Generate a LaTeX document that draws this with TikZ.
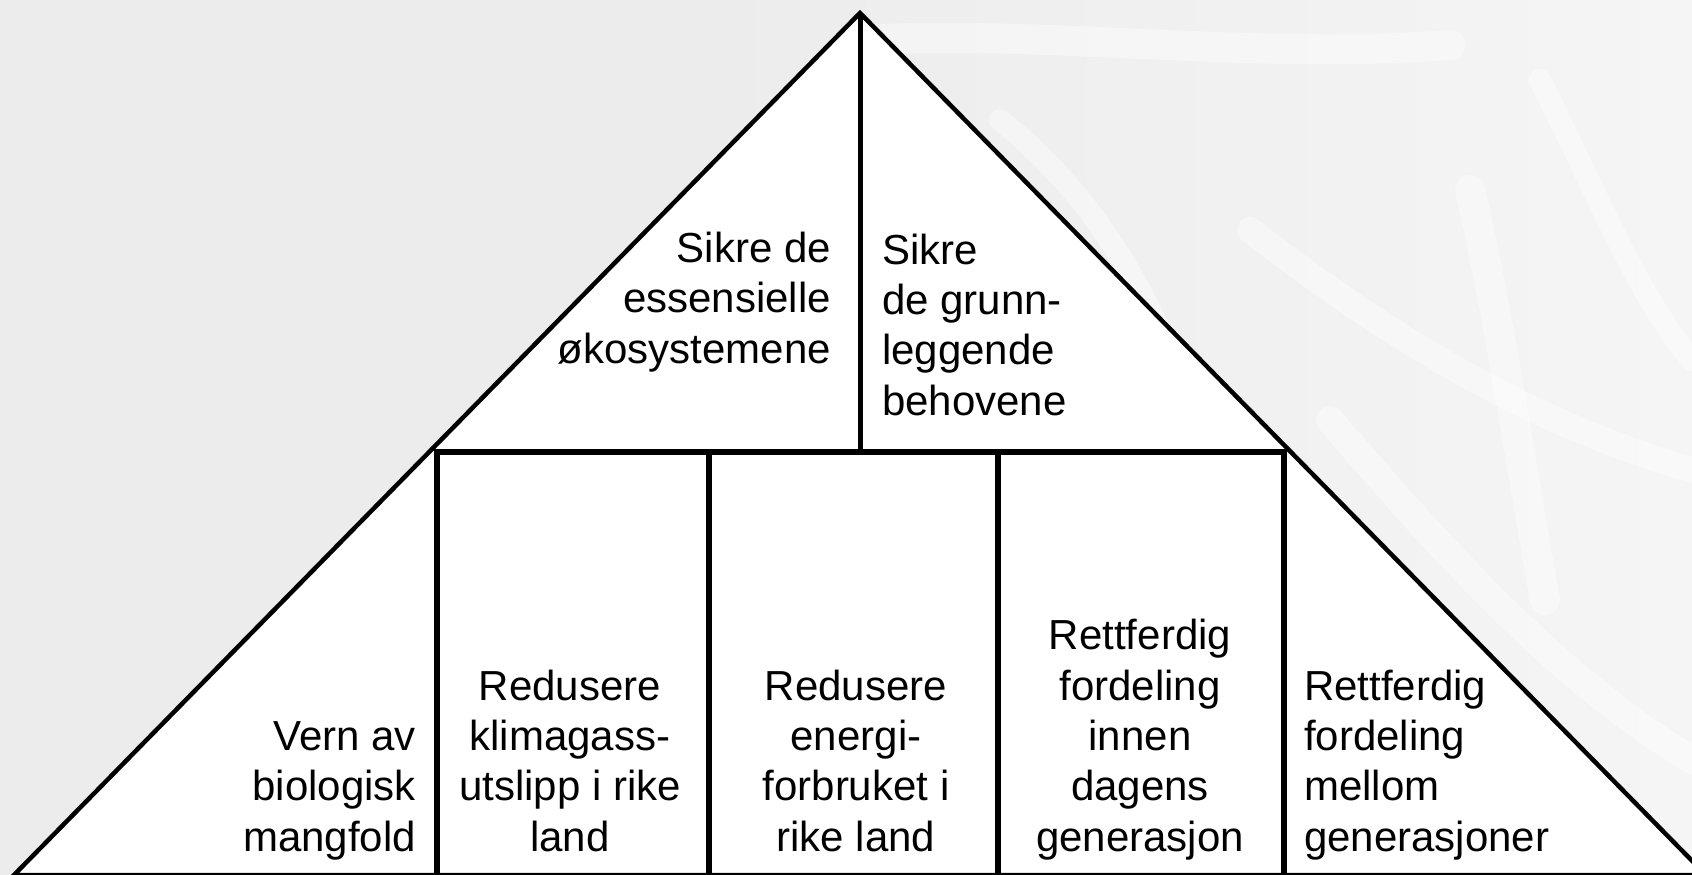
\documentclass[tikz,border=0pt]{standalone}
\usepackage{fontspec}
\setmainfont{Liberation Sans}
\tikzset{
  outline/.style={draw=black, line width=4.5pt, line join=miter},
  boxline/.style={draw=black, line width=6.5pt},
  lbl/.style={inner sep=0pt, font=\fontsize{42}{50.3}\selectfont, text=black},
  vein/.style={draw=white, line cap=round, opacity=0.4},
}
\definecolor{bggray}{HTML}{ECECEC}
\definecolor{bglight}{HTML}{F5F5F5}
\begin{document}
\begin{tikzpicture}[x=1pt,y=-1pt]
\useasboundingbox (0,0) rectangle (1692,875);
\clip (0,0) rectangle (1692,875);
% background
\fill[bggray] (0,0) rectangle (701,875);
\shade[left color=bggray, right color=bglight, shading angle=90] (700,0) rectangle (1692,875);
% faint leaf texture on the right
\draw[vein, line width=30pt] (860,40) .. controls (1050,30) and (1250,60) .. (1450,45);
\draw[vein, line width=30pt] (1470,190) .. controls (1500,320) and (1520,460) .. (1545,600);
\draw[vein, line width=26pt] (1250,230) .. controls (1380,330) and (1520,420) .. (1692,470);
\draw[vein, line width=28pt] (1330,420) .. controls (1450,560) and (1560,680) .. (1692,760);
\draw[vein, line width=22pt] (1540,80) .. controls (1600,200) and (1640,300) .. (1692,360);
\draw[vein, line width=22pt] (1000,120) .. controls (1100,200) and (1150,300) .. (1180,380);
% pyramid
\coordinate (apex) at (860,13);
\coordinate (bl) at (14,875);
\coordinate (br) at (1706,875);
\coordinate (mid) at (860,452);
\filldraw[fill=white, outline] (bl) -- (apex) -- (br) -- cycle;
\draw[draw=black, line width=5pt] (apex) -- (mid);
% lower boxes
\coordinate (b1t) at (437,452); \coordinate (b1b) at (437,880);
\coordinate (b2t) at (709,452); \coordinate (b2b) at (709,880);
\coordinate (b3t) at (998,452); \coordinate (b3b) at (998,880);
\coordinate (b4t) at (1284,452); \coordinate (b4b) at (1284,880);
\draw[boxline, line join=miter] (b1b) -- (b1t) -- (b4t) -- (b4b);
\draw[boxline] (b2t) -- (b2b);
\draw[boxline] (b3t) -- (b3b);
\draw[draw=black, line width=5pt] (bl) -- (br);
% texts (base anchor = baseline of the last line)
\node[lbl, anchor=base east, align=right] (t1) at (831,363) {Sikre de\\essensielle\\økosystemene};
\node[lbl, anchor=base west, align=left] (t2) at (882,415) {Sikre\\de grunn-\\leggende\\behovene};
\node[lbl, anchor=base east, align=right] (t3) at (416,851) {Vern av\\biologisk\\mangfold};
\node[lbl, anchor=base, align=center] (t4) at (570,851) {Redusere\\klimagass-\\utslipp i rike\\land};
\node[lbl, anchor=base, align=center] (t5) at (856,851) {Redusere\\energi-\\forbruket i\\rike land};
\node[lbl, anchor=base, align=center] (t6) at (1140,851) {Rettferdig\\fordeling\\innen\\dagens\\generasjon};
\node[lbl, anchor=base west, align=left] (t7) at (1304,851) {Rettferdig\\fordeling\\mellom\\generasjoner};
\end{tikzpicture}
\end{document}
